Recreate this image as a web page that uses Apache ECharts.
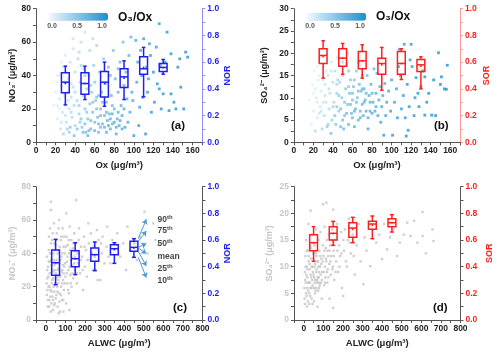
<!DOCTYPE html>
<html>
<head>
<meta charset="utf-8">
<script src="https://cdn.jsdelivr.net/npm/echarts@6/dist/echarts.min.js"></script>
<style>html,body{margin:0;padding:0;background:#fff}#main{width:500px;height:356px}</style>
</head>
<body>
<div id="main"></div>
<script>
// scatter: [Ox, NO3-, O3/Ox]
var ptsNo3Ox = [
[18,22,0.08],[20,30,0.1],[22,14,0.12],[22,40,0.1],[24,26,0.15],[25,8,0.2],[26,34,0.12],[27,18,0.18],[28,45,0.15],[28,5,0.35],[30,23,0.2],[30,52,0.12],[31,12,0.25],[32,30,0.18],[33,38,0.2],[34,20,0.22],[34,6,0.4],[35,48,0.2],[36,27,0.25],[37,15,0.3],[38,33,0.25],[38,56,0.18],[39,22,0.3],[40,42,0.28],[40,10,0.35],[24,20,0.1],[29,28,0.14],[33,25,0.2],[36,35,0.22],[21,36,0.06],[26,48,0.1],[31,42,0.16],[35,9,0.5],[39,4,0.55],[30,16,0.22],
[42,25,0.35],[43,50,0.3],[44,17,0.4],[45,36,0.32],[46,60,0.25],[47,9,0.5],[48,28,0.38],[49,44,0.35],[50,20,0.45],[50,66,0.2],[51,6,0.6],[52,32,0.42],[53,14,0.5],[54,40,0.4],[55,23,0.48],[55,55,0.3],[56,8,0.6],[57,30,0.45],[58,18,0.55],[59,46,0.42],[60,12,0.58],[60,36,0.48],[61,25,0.5],[62,58,0.35],[63,15,0.6],[64,6,0.65],[65,42,0.5],[66,20,0.58],[67,30,0.52],[68,11,0.62],[69,50,0.45],[70,16,0.62],[45,12,0.45],[53,4,0.7],[58,62,0.28],[62,27,0.52],[66,9,0.62],
[71,35,0.55],[72,24,0.6],[73,13,0.68],[74,45,0.55],[75,17,0.65],[76,8,0.7],[77,28,0.62],[78,11,0.7],[79,55,0.55],[80,20,0.66],[81,38,0.62],[82,5,0.75],[83,14,0.7],[84,30,0.65],[85,10,0.72],[86,48,0.62],[87,22,0.7],[88,16,0.72],[89,60,0.6],[90,34,0.68],[91,9,0.78],[92,42,0.7],[93,26,0.72],[95,52,0.68],[96,18,0.75],[97,63,0.65],[98,30,0.74],[99,25,0.76],[100,4,0.85],[76,40,0.58],[84,44,0.62],[94,12,0.78],
[102,61,0.78],[103,36,0.8],[104,48,0.8],[106,21,0.84],[107,55,0.82],[108,40,0.84],[109,27,0.86],[110,62,0.84],[112,5,0.92],[113,45,0.86],[114,30,0.88],[116,59,0.86],[117,52,0.88],[118,18,0.9],[120,42,0.88],[121,24,0.9],[123,57,0.9],[124,35,0.9],[126,71,0.88],[126,32,0.92],[128,20,0.92],[130,29,0.92],[132,48,0.92],[134,66,0.92],[136,19,0.94],[138,53,0.94],[138,29,0.95],[141,24,0.95],[143,20,0.96],[145,45,0.95],[147,50,0.96],[148,33,0.96],[151,20,0.97],[153,54,0.97],[155,51,0.98],[105,10,0.88],[127,46,0.9],[115,38,0.86],
[42,8,0.5],[44,22,0.42],[46,14,0.5],[48,6,0.62],[50,11,0.55],[52,18,0.5],[54,7,0.62],[56,13,0.58],[58,24,0.5],[60,7,0.65],[62,20,0.58],[64,11,0.65],[66,16,0.62],[68,24,0.58],[70,9,0.68],[72,18,0.65],[74,10,0.7],[76,14,0.68],[78,17,0.68],[80,12,0.72],[82,9,0.74],[84,18,0.7],[86,13,0.74],[88,8,0.76],[90,20,0.72],[78,22,0.62],[72,6,0.72],[64,28,0.55],[56,34,0.45],[50,40,0.4],[46,46,0.35],[40,30,0.3],[36,18,0.32],[32,8,0.4],[26,12,0.2],[22,22,0.1],[44,54,0.3],[38,62,0.2],[30,36,0.15],[25,40,0.12]
];
// scatter: [Ox, SO4 2-, O3/Ox]
var ptsSo4Ox = [
[16,9.5,0.05],[18,4,0.1],[19,13,0.08],[20,7,0.1],[21,16,0.08],[22,2.5,0.3],[23,10,0.12],[24,5.5,0.15],[25,14,0.1],[26,19,0.08],[27,8,0.18],[28,11.5,0.15],[29,3,0.35],[30,17,0.12],[31,6,0.25],[32,13,0.2],[33,9,0.22],[34,20,0.1],[35,4,0.4],[35,15,0.2],[36,7.5,0.3],[37,11,0.25],[38,2,0.55],[38,18,0.18],[39,5,0.4],[40,13.5,0.28],[22,12,0.1],[26,6.5,0.2],[30,9,0.18],[33,16,0.15],[28,20.5,0.06],[24,17,0.08],
[41,9,0.35],[42,16,0.3],[43,4,0.5],[44,11,0.4],[45,19,0.28],[46,7,0.45],[47,13.5,0.38],[48,3.5,0.6],[49,10,0.45],[50,15,0.38],[51,3,0.62],[52,6,0.55],[53,12,0.48],[54,17.5,0.38],[55,8.5,0.52],[56,4,0.62],[57,11,0.52],[58,14,0.48],[59,6.5,0.6],[60,9.5,0.55],[61,12.5,0.52],[62,3.5,0.68],[63,7.5,0.62],[64,16,0.48],[65,10,0.58],[66,5,0.65],[67,13,0.56],[68,7,0.64],[69,11.5,0.6],[70,8.5,0.64],[45,14,0.35],[55,20,0.3],[60,5.5,0.62],[66,18,0.45],
[71,6,0.68],[72,12,0.62],[73,9.5,0.66],[74,7,0.7],[75,15,0.6],[76,5.5,0.72],[77,10.5,0.68],[78,7,0.72],[79,13,0.66],[80,6.5,0.74],[81,9,0.72],[82,16.5,0.64],[83,7,0.75],[84,11,0.72],[85,15.5,0.68],[86,6,0.78],[87,9.5,0.75],[88,12.5,0.74],[90,8,0.78],[91,10.5,0.76],[92,1.6,0.9],[93,13.2,0.74],[94,6,0.8],[95,9,0.8],[97,11.5,0.78],[99,7,0.82],[100,14,0.78],[101,1.6,0.92],[76,3,0.78],[89,4.5,0.82],
[103,9,0.84],[105,12,0.84],[106,5.5,0.88],[108,20.9,0.82],[109,15,0.86],[110,7.5,0.88],[112,10.5,0.88],[113,22,0.86],[114,5.5,0.9],[115,1.4,0.95],[116,13,0.9],[117,2.7,0.94],[118,8,0.92],[120,22,0.88],[121,17,0.9],[123,6,0.92],[124,10,0.92],[125,14.5,0.92],[127,11,0.93],[128,8,0.94],[130,12.5,0.94],[132,16,0.94],[134,14.7,0.95],[134,6.1,0.96],[136,9,0.95],[138,11,0.96],[141,6.1,0.96],[143,14,0.96],[145,6,0.97],[148,20.1,0.97],[150,13,0.97],[151,14.7,0.97],[154,12,0.98],[157,17.3,0.98],[156,11.9,0.98],[119,18.5,0.9],[107,17,0.86],
[42,6,0.5],[44,8,0.48],[46,10.5,0.45],[48,7.5,0.55],[50,5,0.6],[52,9,0.52],[54,6.5,0.6],[56,12.5,0.5],[58,8.5,0.58],[60,11,0.55],[62,7,0.65],[64,9,0.62],[66,11.5,0.58],[68,5.5,0.68],[70,12,0.6],[72,9,0.66],[74,11,0.66],[78,9,0.7],[80,11,0.7],[84,8,0.74],[36,12,0.25],[32,10.5,0.22],[28,7,0.2],[24,9,0.12],[20,11,0.08],[34,3.5,0.45],[40,8,0.35],[44,13,0.35],[50,18,0.3],[38,16,0.2],[30,14,0.15],[26,15,0.1],[56,16,0.45],[62,14,0.5],[70,15,0.55]
];
// scatter: [ALWC, NO3-]
var ptsNo3Alwc = [
[5,15],[8,25],[10,8],[12,32],[14,20],[15,42],[18,12],[20,28],[22,55],[24,18],[25,5],[26,71],[26,66],[28,36],[30,22],[32,48],[34,14],[35,30],[36,6],[38,25],[40,40],[42,58],[43,17],[45,33],[46,10],[48,22],[50,45],[52,28],[54,15],[55,36],[56,52],[58,20],[60,8],[62,30],[64,42],[65,24],[68,60],[70,16],[70,34],[72,5],[74,27],[76,48],[78,20],[80,38],[82,12],[84,30],[86,55],[88,24],[90,44],[92,18],[95,32],[98,40],[100,26],[104,64],[104,10],[106,50],[108,35],[110,22],[112,45],[115,30],[118,16],[120,40],[122,56],[125,27],[128,36],[130,48],[132,20],[135,33],[138,43],[140,25],[145,52],[148,38],[150,30],[155,46],[156,72],[158,22],[162,40],[165,34],[170,55],[175,28],[180,44],[185,38],[190,18],[195,50],[200,32],[205,42],[210,26],[217,58],[220,46],[225,36],[230,52],[240,30],[245,44],[250,38],[261,54],[265,24],[270,48],[278,24],[285,40],[290,50],[300,34],[310,44],[313,56],[320,38],[330,34],[340,48],[350,42],[365,52],[380,38],[395,46],[410,30],[417,56],[430,42],[452,46],[465,36],[480,50],[504,65],[520,40],[548,58],[560,48],[574,45],[6,38],[16,50],[28,10],[44,46],[66,4],[90,5],[120,6],[40,20],[60,26],[20,35],
[4,22],[7,30],[9,18],[11,12],[13,26],[15,35],[17,8],[19,20],[21,40],[23,14],[25,28],[27,46],[29,17],[31,33],[33,24],[35,52],[37,12],[39,29],[41,36],[43,9],[45,21],[47,42],[49,30],[51,13],[53,25],[55,48],[57,34],[59,17],[61,40],[63,22],[65,55],[67,31],[69,11],[71,44],[73,26],[75,36],[77,15],[79,50],[81,29],[83,22],[85,40],[87,33],[89,12],[91,28],[93,50],[97,22],[99,34],[102,44],[107,28],[111,38],[114,18],[117,48],[121,32],[124,42],[127,22],[131,38],[136,28],[142,46],[146,34],[152,42],[160,28],[168,48],[178,36],[188,30],[198,44],[212,36],[235,40],[255,30],[282,46]
];
// scatter: [ALWC, SO4 2-]
var ptsSo4Alwc = [
[3,6],[5,9],[6,3],[8,12],[10,7],[12,15],[14,4.5],[15,10],[16,2.5],[18,8],[20,13],[22,5.5],[24,18],[25,11],[26,7],[28,3],[30,9.5],[32,14],[34,6],[35,20.5],[36,11.5],[38,8],[40,4],[42,16],[44,10],[45,6.5],[48,12.5],[50,8.5],[52,3.5],[54,14],[55,7],[58,10.5],[60,5.5],[62,17],[64,9],[65,12],[68,7.5],[70,2.5],[72,11],[74,15],[76,8],[78,6],[80,13],[82,10],[85,16.5],[88,7],[90,11.5],[92,4],[95,9],[98,21.7],[98,14],[100,12],[104,6.5],[106,17.5],[108,10],[110,8],[112,13.5],[115,22],[115,11],[118,15],[120,7],[122,9.5],[125,12],[128,16],[130,10.5],[132,4],[135,14],[138,8.5],[140,12],[145,17],[148,10],[150,20.7],[150,2.3],[152,13],[155,7.5],[160,15],[165,11],[170,18],[175,9],[180,14],[185,12],[190,16.5],[195,6],[201,4.5],[205,13],[210,17],[220,10],[225,15],[230,19],[240,12.5],[250,16],[260,8.5],[270,14],[280,18],[290,11],[304,6.7],[310,15.5],[320,13],[339,10.1],[350,17],[370,14.5],[385,16],[399,11.4],[410,18],[425,13.25],[440,15.5],[460,17],[476,12],[490,14.5],[510,16],[528,18.25],[545,15.75],[563,18.6],[580,14.5],[606,20.25],[606,15.75],[623,12.5],[657,17],[662,14.8],
[4,4],[7,7.5],[9,10],[11,5],[13,8.5],[15,13],[17,6],[19,9.5],[21,3.5],[23,7],[25,12],[27,5],[29,10.5],[31,7],[33,4.5],[35,8.5],[37,13.5],[39,6],[41,10],[43,7.5],[45,3],[47,9],[49,11.5],[51,6],[53,8],[55,10],[57,5],[59,7.5],[61,12.5],[63,6],[65,9.5],[67,7],[69,11],[71,8],[73,5.5],[75,10],[77,7],[79,9],[81,6.5],[83,12],[86,8.5],[89,10.5],[93,7.5],[96,11],[101,9],[105,13],[109,7],[113,11.5],[117,9],[121,13],[126,8],[131,13],[136,11],[142,15],[146,9.5],[154,12],[162,9],[172,13],[182,10],[192,12.5],[202,15],[215,11],[235,14.5],[255,12]
];

// box plots vs Ox
var boxOx = [30, 50, 70, 90, 110, 130];
var norOx90 = [0.57, 0.57, 0.60, 0.61, 0.71, 0.62];
var norOx75 = [0.52, 0.52, 0.53, 0.55, 0.64, 0.59];
var norOx50 = [0.45, 0.44, 0.45, 0.49, 0.55, 0.56];
var norOxMean = [0.44, 0.44, 0.44, 0.48, 0.56, 0.56];
var norOx25 = [0.37, 0.36, 0.34, 0.41, 0.51, 0.53];
var norOx10 = [0.28, 0.32, 0.27, 0.32, 0.34, 0.51];

var sorOx90 = [0.76, 0.74, 0.73, 0.71, 0.70, 0.64];
var sorOx75 = [0.70, 0.70, 0.68, 0.63, 0.68, 0.62];
var sorOx50 = [0.65, 0.63, 0.61, 0.59, 0.59, 0.58];
var sorOxMean = [0.64, 0.63, 0.61, 0.58, 0.59, 0.57];
var sorOx25 = [0.59, 0.57, 0.55, 0.51, 0.51, 0.53];
var sorOx10 = [0.48, 0.51, 0.48, 0.39, 0.47, 0.40];

// box plots vs ALWC
var boxAlwc = [50, 150, 250, 350, 450];
var norAw90 = [0.605, 0.58, 0.585, 0.58, 0.61];
var norAw75 = [0.525, 0.52, 0.54, 0.565, 0.59];
var norAw50 = [0.43, 0.46, 0.49, 0.535, 0.545];
var norAwMean = [0.43, 0.46, 0.49, 0.53, 0.54];
var norAw25 = [0.335, 0.40, 0.44, 0.49, 0.515];
var norAw10 = [0.265, 0.34, 0.37, 0.425, 0.47];

var sorAw90 = [0.70, 0.74, 0.77, 0.78, 0.79];
var sorAw75 = [0.64, 0.70, 0.73, 0.74, 0.76];
var sorAw50 = [0.58, 0.65, 0.69, 0.72, 0.73];
var sorAwMean = [0.58, 0.65, 0.68, 0.71, 0.73];
var sorAw25 = [0.52, 0.60, 0.62, 0.68, 0.70];
var sorAw10 = [0.44, 0.56, 0.58, 0.61, 0.66];

// legend labels in panel (c)
var annNames = ['90', '75', '50', 'mean', '25', '10'];
var annLabelY = [0.755, 0.668, 0.573, 0.473, 0.383, 0.293];
var annHeadY = [0.755, 0.668, 0.573, 0.498, 0.405, 0.318];
var annStartY = [norAw90[4], norAw75[4], norAw50[4], norAwMean[4], norAw25[4], norAw10[4]];

var FONT = "'Liberation Sans', Arial, sans-serif";
var BLUE = '#1f1ff2', RED = '#ff1f1f';

function boxRows(xs, p10, p25, p50, mean, p75, p90) {
	var rows = [];
	for (var i = 0; i < xs.length; i++) {
		rows.push([xs[i], p10[i], p25[i], p50[i], mean[i], p75[i], p90[i]]);
	}
	return rows;
}

function boxRender(color, halfW, capW) {
	return function (params, api) {
		var x = api.value(0);
		var c10 = api.coord([x, api.value(1)]);
		var c25 = api.coord([x, api.value(2)]);
		var c50 = api.coord([x, api.value(3)]);
		var cm = api.coord([x, api.value(4)]);
		var c75 = api.coord([x, api.value(5)]);
		var c90 = api.coord([x, api.value(6)]);
		var hw = api.size([halfW, 0])[0];
		var cw = api.size([capW, 0])[0];
		var px = c50[0];
		var st = {stroke: color, lineWidth: 1.5};
		return {type: 'group', children: [
			{type: 'rect', shape: {x: px - hw, y: c75[1], width: 2 * hw, height: c25[1] - c75[1]}, style: {stroke: color, fill: 'none', lineWidth: 1.5}},
			{type: 'line', shape: {x1: px - hw, y1: c50[1], x2: px + hw, y2: c50[1]}, style: st},
			{type: 'line', shape: {x1: px, y1: c75[1], x2: px, y2: c90[1]}, style: st},
			{type: 'line', shape: {x1: px, y1: c25[1], x2: px, y2: c10[1]}, style: st},
			{type: 'line', shape: {x1: px - cw, y1: c90[1], x2: px + cw, y2: c90[1]}, style: st},
			{type: 'line', shape: {x1: px - cw, y1: c10[1], x2: px + cw, y2: c10[1]}, style: st},
			{type: 'rect', shape: {x: px - 0.8, y: cm[1] - 0.8, width: 1.6, height: 1.6}, style: {fill: color}}
		]};
	};
}

function xAx(grid, min, max, step, labStep, name) {
	return {
		type: 'value', gridIndex: grid, min: min, max: max, interval: step,
		name: name, nameLocation: 'middle', nameGap: 18,
		nameTextStyle: {fontFamily: FONT, fontWeight: 'bold', fontSize: 9.5, color: '#222'},
		axisLine: {show: true, onZero: false, lineStyle: {color: '#555', width: 1}},
		axisTick: {show: true, length: 3, lineStyle: {color: '#555'}},
		axisLabel: {fontFamily: FONT, fontWeight: 'bold', fontSize: 8.5, color: '#222', margin: 4,
			formatter: function (v) { return (v >= 0 && Math.abs(v % labStep) < 1e-6) ? String(v) : ''; }},
		splitLine: {show: false}
	};
}

function yAx(grid, min, max, step, labStep, pos, name, labColor, lineColor, gap, dec) {
	return {
		type: 'value', gridIndex: grid, min: min, max: max, interval: step, position: pos,
		name: name, nameLocation: 'middle', nameGap: gap, nameRotate: 90,
		nameTextStyle: {fontFamily: FONT, fontWeight: 'bold', fontSize: 9, color: labColor},
		axisLine: {show: true, onZero: false, lineStyle: {color: lineColor, width: 1}},
		axisTick: {show: true, length: 3, lineStyle: {color: lineColor}},
		axisLabel: {fontFamily: FONT, fontWeight: 'bold', fontSize: 8.5, color: labColor, margin: 5,
			formatter: function (v) {
				var k = Math.round(v / labStep * 1000) / 1000;
				return Math.abs(k - Math.round(k)) < 1e-6 ? v.toFixed(dec) : '';
			}},
		splitLine: {show: false}
	};
}

function cbarAxis(grid) {
	return {
		type: 'value', gridIndex: grid, min: 0, max: 1, interval: 0.5,
		axisLine: {show: false}, axisTick: {show: false}, splitLine: {show: false},
		axisLabel: {fontFamily: FONT, fontWeight: 'bold', fontSize: 7, color: '#555', margin: 2,
			formatter: function (v) { return v.toFixed(1); }}
	};
}

var myChart = echarts.init(document.getElementById('main'));
var option = {
	animation: false,
	backgroundColor: '#fff',
	title: [
		{text: '(a)', left: 171, top: 120},
		{text: '(b)', left: 434, top: 120},
		{text: '(c)', left: 173, top: 302},
		{text: '(d)', left: 433, top: 302},
		{text: 'O\u2083/Ox', left: 118, top: 12},
		{text: 'O\u2083/Ox', left: 376, top: 11}
	].map(function (t) {
		t.padding = 0;
		t.textStyle = {fontFamily: FONT, fontWeight: 'bold', fontSize: t.text.length > 3 ? 12 : 11.5, color: '#111'};
		return t;
	}),
	grid: [
		{left: 36, top: 8.7, width: 166.3, height: 133.6},
		{left: 293.8, top: 8.7, width: 166.2, height: 133.6},
		{left: 36, top: 186.7, width: 166.5, height: 133.3},
		{left: 294, top: 186.7, width: 166.5, height: 133.3},
		{left: 52, top: 12.7, width: 50, height: 8},
		{left: 310, top: 12.7, width: 50, height: 8}
	],
	xAxis: [
		xAx(0, 0, 170, 10, 20, 'Ox (\u03bcg/m\u00b3)'),
		xAx(1, 0, 170, 10, 20, 'Ox (\u03bcg/m\u00b3)'),
		xAx(2, -50, 800, 50, 100, 'ALWC (\u03bcg/m\u00b3)'),
		xAx(3, -50, 800, 50, 100, 'ALWC (\u03bcg/m\u00b3)'),
		cbarAxis(4),
		cbarAxis(5)
	],
	yAxis: [
		yAx(0, 0, 80, 10, 20, 'left', 'NO\u2083\u207b (\u03bcg/m\u00b3)', '#222', '#555', 19, 0),
		yAx(0, 0, 1, 0.1, 0.2, 'right', 'NOR', BLUE, '#8f8fff', 20, 1),
		yAx(1, 0, 30, 2.5, 5, 'left', 'SO\u2084\u00b2\u207b (\u03bcg/m\u00b3)', '#222', '#555', 25, 0),
		yAx(1, 0, 1, 0.1, 0.2, 'right', 'SOR', RED, '#ff9a9a', 22, 1),
		yAx(2, 0, 80, 10, 20, 'left', 'NO\u2083\u207b (\u03bcg/m\u00b3)', '#c6c6c6', '#555', 19, 0),
		yAx(2, 0, 1, 0.1, 0.2, 'right', 'NOR', BLUE, '#555', 21, 1),
		yAx(3, 0, 25, 2.5, 5, 'left', 'SO\u2084\u00b2\u207b (\u03bcg/m\u00b3)', '#c6c6c6', '#555', 20, 0),
		yAx(3, 0, 1, 0.1, 0.2, 'right', 'SOR', RED, '#555', 25, 1),
		{type: 'value', gridIndex: 4, show: false},
		{type: 'value', gridIndex: 5, show: false}
	],
	visualMap: [
		{type: 'continuous', min: 0, max: 1, dimension: 2, seriesIndex: 0, orient: 'horizontal',
			left: 49, top: 12.7, itemWidth: 8, itemHeight: 59, padding: 0, calculable: false,
			text: null, inRange: {color: ['#f2f9fd', '#1990d2']}},
		{type: 'continuous', min: 0, max: 1, dimension: 2, seriesIndex: 1, orient: 'horizontal',
			left: 307, top: 12.7, itemWidth: 8, itemHeight: 59, padding: 0, calculable: false,
			text: null, inRange: {color: ['#f2f9fd', '#1990d2']}}
	],
	series: [
		{type: 'scatter', xAxisIndex: 0, yAxisIndex: 0, symbol: 'rect', symbolSize: 2.8, data: ptsNo3Ox, z: 1},
		{type: 'scatter', xAxisIndex: 1, yAxisIndex: 2, symbol: 'rect', symbolSize: 2.8, data: ptsSo4Ox, z: 1},
		{type: 'scatter', xAxisIndex: 2, yAxisIndex: 4, symbol: 'rect', symbolSize: 2.4, data: ptsNo3Alwc, z: 1,
			itemStyle: {color: '#c4c4c4'}},
		{type: 'scatter', xAxisIndex: 3, yAxisIndex: 6, symbol: 'rect', symbolSize: 2.4, data: ptsSo4Alwc, z: 1,
			itemStyle: {color: '#c4c4c4'}},
		{type: 'custom', xAxisIndex: 0, yAxisIndex: 1, z: 3,
			renderItem: boxRender(BLUE, 4, 1.8),
			encode: {x: 0, y: [1, 2, 3, 4, 5, 6]},
			data: boxRows(boxOx, norOx10, norOx25, norOx50, norOxMean, norOx75, norOx90)},
		{type: 'custom', xAxisIndex: 1, yAxisIndex: 3, z: 3,
			renderItem: boxRender(RED, 4, 1.8),
			encode: {x: 0, y: [1, 2, 3, 4, 5, 6]},
			data: boxRows(boxOx, sorOx10, sorOx25, sorOx50, sorOxMean, sorOx75, sorOx90)},
		{type: 'custom', xAxisIndex: 2, yAxisIndex: 5, z: 3,
			renderItem: boxRender(BLUE, 20, 10),
			encode: {x: 0, y: [1, 2, 3, 4, 5, 6]},
			data: boxRows(boxAlwc, norAw10, norAw25, norAw50, norAwMean, norAw75, norAw90)},
		{type: 'custom', xAxisIndex: 3, yAxisIndex: 7, z: 3,
			renderItem: boxRender(RED, 20, 10),
			encode: {x: 0, y: [1, 2, 3, 4, 5, 6]},
			data: boxRows(boxAlwc, sorAw10, sorAw25, sorAw50, sorAwMean, sorAw75, sorAw90)},
		{type: 'lines', coordinateSystem: 'cartesian2d', xAxisIndex: 2, yAxisIndex: 5, z: 4,
			symbol: ['none', 'arrow'], symbolSize: 5,
			lineStyle: {color: '#4a9ad8', width: 1, opacity: 1},
			data: annStartY.map(function (y, i) { return {coords: [[472, y], [513, annHeadY[i]]]}; })},
		{type: 'scatter', xAxisIndex: 2, yAxisIndex: 5, symbolSize: 0, z: 5,
			data: annNames.map(function (n, i) { return {name: n, value: [570, annLabelY[i]]}; }),
			label: {show: true, position: 'right', distance: 0, fontFamily: FONT, fontWeight: 'bold', fontSize: 8.5, color: '#111',
				formatter: function (p) { return p.name === 'mean' ? '{n|mean}' : '{n|' + p.name + '}{s|th}'; },
				rich: {n: {fontFamily: FONT, fontWeight: 'bold', fontSize: 8.5, color: '#111'},
					s: {fontFamily: FONT, fontWeight: 'bold', fontSize: 6, color: '#111', padding: [0, 0, 5, 0]}}}}
	]
};
myChart.setOption(option);
</script>
</body>
</html>
